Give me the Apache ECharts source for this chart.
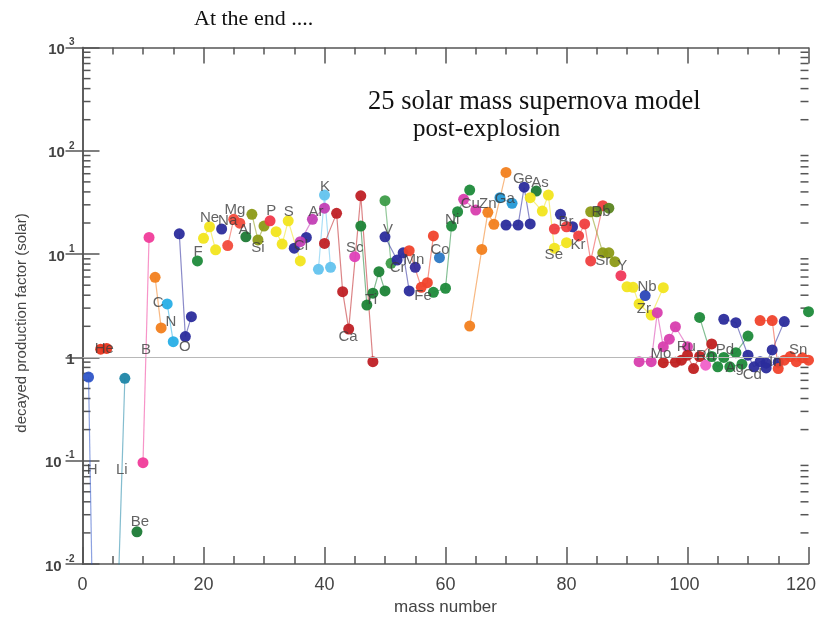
<!DOCTYPE html>
<html>
<head>
<meta charset="utf-8">
<title>25 solar mass supernova model</title>
<script src="https://cdn.jsdelivr.net/npm/echarts@6/dist/echarts.min.js"></script>
<style>
  html, body { margin: 0; padding: 0; background: #fff; }
  #chart { width: 821px; height: 618px; }
</style>
</head>
<body>
<div id="chart"></div>
<script>
// Decayed production factors (relative to solar) per isotope: [mass number, factor]
const isoH  = [[1, 0.645], [2, 2.5e-4]];
const isoHe = [[3, 1.2], [4, 1.22]];
const isoLi = [[6, 0.0085], [7, 0.628]];
const isoBe = [[9, 0.0205]];
const isoB  = [[10, 0.0957], [11, 14.5]];
const isoC  = [[12, 5.96], [13, 1.93]];
const isoN  = [[14, 3.29], [15, 1.42]];
const isoO  = [[16, 15.7], [17, 1.59], [18, 2.48]];
const isoF  = [[19, 8.58]];
const isoNe = [[20, 14.2], [21, 18.4], [22, 11.0]];
const isoNa = [[23, 17.5]];
const isoMg = [[24, 12.1], [25, 21.7], [26, 19.9]];
const isoAl = [[27, 14.7]];
const isoSi = [[28, 24.3], [29, 13.7], [30, 18.7]];
const isoP  = [[31, 21.0]];
const isoS  = [[32, 16.5], [33, 12.5], [34, 21.0], [36, 8.58]];
const isoCl = [[35, 11.4], [37, 14.5]];
const isoAr = [[36, 13.2], [38, 21.7], [40, 27.8]];
const isoK  = [[39, 7.13], [40, 37.3], [41, 7.45]];
const isoCa = [[40, 12.7], [42, 24.8], [43, 4.33], [44, 1.88], [46, 36.7], [48, 0.91]];
const isoSc = [[45, 9.44]];
const isoTi = [[46, 18.7], [47, 3.21], [48, 4.18], [49, 6.76], [50, 4.4]];
const isoV  = [[50, 32.9], [51, 8.15]];
const isoCr = [[50, 14.7], [52, 8.77], [53, 10.3], [54, 4.4]];
const isoMn = [[55, 7.45]];
const isoFe = [[54, 10.8], [56, 4.77], [57, 5.29], [58, 15.0]];
const isoCo = [[59, 9.23]];
const isoNi = [[58, 4.27], [60, 4.67], [61, 18.7], [62, 25.7], [64, 41.7]];
const isoCu = [[63, 33.9], [65, 26.7]];
const isoZn = [[64, 2.01], [66, 11.1], [67, 25.4], [68, 19.4], [70, 61.7]];
const isoGa = [[69, 35.2], [71, 31]];
const isoGe = [[70, 19.1], [72, 19.1], [73, 44.4], [74, 19.6]];
const isoAs = [[75, 40.8]];
const isoSe = [[74, 35.2], [76, 26.1], [77, 37.3], [78, 11.4], [80, 12.9]];
const isoBr = [[79, 24.3], [81, 18.4]];
const isoKr = [[78, 17.5], [80, 18.4], [82, 15.0], [83, 19.6], [84, 8.58], [86, 29.4]];
const isoRb = [[85, 25.7], [87, 27.8]];
const isoSr = [[84, 25.7], [86, 10.3], [87, 10.3], [88, 8.44]];
const isoY  = [[89, 6.18]];
const isoZr = [[90, 4.83], [91, 4.77], [92, 3.29], [94, 2.57], [96, 4.73]];
const isoNb = [[93, 3.97]];
const isoMo = [[92, 0.91], [94, 0.91], [95, 2.71], [96, 1.27], [97, 1.5], [98, 1.98], [100, 1.27]];
const isoRu = [[96, 0.89], [98, 0.9], [99, 0.94], [100, 1.05], [101, 0.78], [102, 1.02], [104, 1.35]];
const isoRh = [[103, 0.84]];
const isoPd = [[102, 2.44], [104, 1.02], [105, 0.81], [106, 1.0], [108, 1.11], [110, 1.61]];
const isoAg = [[107, 0.81], [109, 0.86]];
const isoCd = [[106, 2.34], [108, 2.17], [110, 1.05], [111, 0.81], [112, 0.91], [113, 0.88], [114, 1.18], [116, 2.22]];
const isoIn = [[113, 0.79], [115, 0.9]];
const isoSn = [[112, 2.27], [114, 2.27], [115, 0.78], [116, 0.94], [117, 1.02], [118, 0.91], [119, 0.99], [120, 0.94]];
const isoTe = [[120, 2.77]];

const elementNames = ['H','He','Li','Be','B','C','N','O','F','Ne','Na','Mg','Al','Si','P','S','Cl','Ar','K','Ca',
  'Sc','Ti','V','Cr','Mn','Fe','Co','Ni','Cu','Zn','Ga','Ge','As','Se','Br','Kr','Rb','Sr','Y','Zr',
  'Nb','Mo','Ru','Rh','Pd','Ag','Cd','In','Sn','Te'];
const elementData = [isoH, isoHe, isoLi, isoBe, isoB, isoC, isoN, isoO, isoF, isoNe, isoNa, isoMg, isoAl, isoSi,
  isoP, isoS, isoCl, isoAr, isoK, isoCa, isoSc, isoTi, isoV, isoCr, isoMn, isoFe, isoCo, isoNi, isoCu, isoZn,
  isoGa, isoGe, isoAs, isoSe, isoBr, isoKr, isoRb, isoSr, isoY, isoZr, isoNb, isoMo, isoRu, isoRh, isoPd,
  isoAg, isoCd, isoIn, isoSn, isoTe];
const elementColors = ['#2f55c8','#e8341c','#1f86a8','#1b7a35','#f03c9a','#f2801e','#27aee6','#2b2c9c','#1d8a3a','#f2e51d',
  '#2b2c9c','#f24b3c','#1d7a35','#8c9a16','#f0384a','#f2e51d','#2b2c9c','#c23fb5','#63c3ee','#bf2025',
  '#de40b8','#1c8336','#3d9c48','#2b2c9c','#352c9c','#f0432c','#2b78c4','#1d8a3a','#d83eae','#f2801e',
  '#2499d6','#2b2c9c','#1d7a35','#f2e51d','#2b2c9c','#ef3f3f','#5a8420','#8c9a16','#f0385a','#f2e51d',
  '#2b46b8','#d83eae','#c02020','#f060c8','#1d8a3a','#1d8a3a','#2b2c9c','#2b2c9c','#f0432c','#1d8a3a'];

// Element name tags placed beside their isotopes: [mass number, factor]
const tagNames  = ['H','He','Li','Be','B','C','N','O','F','Ne','Na','Mg','Al','Si','P','S','Cl','Ar','K','Ca',
  'Sc','Ti','V','Cr','Mn','Fe','Co','Ni','Cu','Zn','Ga','Ge','As','Se','Br','Kr','Rb','Sr','Y','Nb','Zr',
  'Mo','Ru','Rh','Pd','Ag','Cd','In','Sn'];
const tagMass   = [1.6, 3.6, 6.5, 9.5, 10.5, 12.5, 14.6, 16.9, 19.1, 21.0, 24.0, 25.2, 26.9, 29.0, 31.2, 34.1, 36.1, 38.6, 40.1, 43.9,
  45.0, 47.7, 50.5, 52.1, 54.8, 56.3, 59.1, 61.1, 64.1, 67.0, 69.8, 72.8, 75.6, 77.9, 79.9, 81.9, 85.7, 86.0, 89.2, 93.3, 92.8,
  95.6, 99.8, 103.0, 106.2, 107.8, 110.7, 114.5, 118.3];
const tagFactor = [0.081, 1.2, 0.081, 0.0255, 1.18, 3.36, 2.2, 1.26, 10.5, 22.3, 20.9, 26.7, 17.1, 11.5, 26.1, 25.6, 12, 25.6, 44.7, 1.57,
  11.5, 3.6, 17.1, 7.3, 8.8, 3.9, 10.9, 21.3, 30.5, 30.5, 34.1, 53.3, 48.7, 9.8, 20.4, 12.2, 25.6, 8.6, 7.7, 4.8, 2.94,
  1.08, 1.26, 1.03, 1.18, 0.79, 0.68, 0.9, 1.18];

const yTickExponents = { '0.01': -2, '0.1': -1, '1': 0, '10': 1, '100': 2, '1000': 3 };

const SANS = '"Liberation Sans", Arial, Helvetica, sans-serif';
const SERIF = '"Liberation Serif", "Times New Roman", serif';
const AXIS_COLOR = '#555';

// Log-spaced minor tick values (2..9 within each decade)
const minorTickValues = [];
for (let k = -2; k <= 2; k++) {
  for (let m = 2; m <= 9; m++) minorTickValues.push(m * Math.pow(10, k));
}

const chart = echarts.init(document.getElementById('chart'), null, { renderer: 'canvas' });

const elementSeries = elementNames.map((name, i) => ({
  name: name,
  type: 'line',
  xAxisIndex: 0,
  yAxisIndex: 0,
  data: elementData[i],
  symbol: 'circle',
  symbolSize: 11,
  showAllSymbol: true,
  clip: true,
  z: 3,
  itemStyle: { color: elementColors[i], opacity: 0.95 },
  lineStyle: { color: elementColors[i], width: 1.2, opacity: 0.55 },
  emphasis: { disabled: true }
}));

const xLabelBase = { fontSize: 18, color: '#444', fontFamily: SANS };

const option = {
  animation: false,
  backgroundColor: '#ffffff',
  grid: { left: 82.5, right: 12.5, top: 47.5, bottom: 54, containLabel: false, outerBoundsMode: 'none' },
  graphic: [
    { type: 'text', left: 194, top: 8,
      style: { text: 'At the end ....', font: '22px ' + SERIF, fill: '#111' } },
    { type: 'text', left: 368, top: 89,
      style: { text: '25 solar mass supernova model', font: '26.5px ' + SERIF, fill: '#111' } },
    { type: 'text', left: 413, top: 117,
      style: { text: 'post-explosion', font: '25px ' + SERIF, fill: '#111' } },
    { type: 'text', x: 22, y: 323, rotation: Math.PI / 2,
      style: { text: 'decayed production factor (solar)', font: '15px ' + SANS, fill: '#444',
               align: 'center', verticalAlign: 'middle' } }
  ],
  xAxis: [
    {
      type: 'value', min: 0, max: 120, interval: 20, position: 'bottom',
      axisLine: { lineStyle: { color: AXIS_COLOR, width: 1.5 } },
      axisTick: { inside: true, length: 17, lineStyle: { color: AXIS_COLOR, width: 1.5 } },
      minorTick: { show: true, splitNumber: 4, length: 8, lineStyle: { color: AXIS_COLOR, width: 1.5 } },
      splitLine: { show: false },
      axisLabel: {
        margin: 12,
        formatter: (v) => (v === 120 ? '{r|' + v + '}' : v === 100 ? '{m|' + v + '}' : '{n|' + v + '}'),
        rich: {
          n: xLabelBase,
          m: Object.assign({ padding: [0, 6, 0, 0] }, xLabelBase),
          r: Object.assign({ padding: [0, 15, 0, 0] }, xLabelBase)
        }
      },
      name: 'mass number', nameLocation: 'middle', nameGap: 35,
      nameTextStyle: { fontSize: 17, color: '#444', fontFamily: SANS }
    },
    {
      type: 'value', min: 0, max: 120, interval: 20, position: 'top',
      axisLine: { lineStyle: { color: AXIS_COLOR, width: 1.5 } },
      axisTick: { inside: true, length: 16, lineStyle: { color: AXIS_COLOR, width: 1.5 } },
      minorTick: { show: true, splitNumber: 4, length: 7, lineStyle: { color: AXIS_COLOR, width: 1.5 } },
      splitLine: { show: false },
      axisLabel: { show: false }
    }
  ],
  yAxis: [
    {
      type: 'log', logBase: 10, min: 0.01, max: 1000, position: 'left',
      axisLine: { lineStyle: { color: AXIS_COLOR, width: 1.5 } },
      axisTick: { inside: true, length: 17, lineStyle: { color: AXIS_COLOR, width: 1.5 } },
      splitLine: { show: false },
      axisLabel: {
        margin: 8,
        formatter: (v) => {
          const e = yTickExponents[String(+v.toPrecision(6))];
          if (e === 0) return '{b|1}';
          return '{b|10}{s|' + e + '}';
        },
        rich: {
          b: { fontSize: 15, fontWeight: 'bold', color: '#444', fontFamily: SANS, lineHeight: 20, verticalAlign: 'bottom' },
          s: { fontSize: 10, fontWeight: 'bold', color: '#444', fontFamily: SANS, lineHeight: 20, verticalAlign: 'top', padding: [0, 0, 0, 4] }
        }
      }
    },
    {
      type: 'log', logBase: 10, min: 0.01, max: 1000, position: 'right',
      axisLine: { lineStyle: { color: AXIS_COLOR, width: 1.5 } },
      axisTick: { inside: true, length: 17, lineStyle: { color: AXIS_COLOR, width: 1.5 } },
      splitLine: { show: false },
      axisLabel: { show: false }
    }
  ],
  series: [
    {
      // reference line at a production factor of 1, plus log minor ticks on both y axes
      type: 'custom',
      xAxisIndex: 0,
      yAxisIndex: 0,
      clip: false,
      silent: true,
      z: 2,
      data: minorTickValues.map(v => [0, v]),
      renderItem: (params, api) => {
        const cs = params.coordSys;
        const y = api.coord([0, api.value(1)])[1];
        const st = { stroke: AXIS_COLOR, lineWidth: 1.5 };
        return {
          type: 'group',
          children: [
            { type: 'line', shape: { x1: cs.x, y1: y, x2: cs.x + 8, y2: y }, style: st },
            { type: 'line', shape: { x1: cs.x + cs.width - 8, y1: y, x2: cs.x + cs.width, y2: y }, style: st }
          ]
        };
      },
      markLine: {
        silent: true, symbol: 'none', label: { show: false },
        lineStyle: { color: '#b8b8b8', width: 1.2, type: 'solid' },
        data: [{ yAxis: 1 }]
      }
    },
    ...elementSeries,
    {
      type: 'scatter',
      xAxisIndex: 0,
      yAxisIndex: 0,
      symbolSize: 0,
      silent: true,
      z: 10,
      data: tagNames.map((n, i) => ({ value: [tagMass[i], tagFactor[i]], name: n })),
      label: {
        show: true, position: 'inside', formatter: '{b}',
        fontSize: 15, color: '#3c3c3c', fontFamily: SANS
      }
    }
  ]
};

chart.setOption(option);
</script>
</body>
</html>
